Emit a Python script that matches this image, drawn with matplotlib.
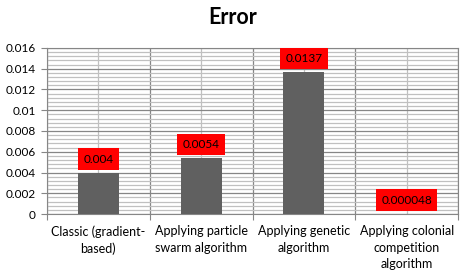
import numpy as np
import matplotlib.pyplot as plt
from matplotlib.ticker import MultipleLocator, FixedLocator

categories = ['Classic (gradient-\nbased)', 'Applying particle\nswarm algorithm',
              'Applying genetic\nalgorithm', 'Applying colonial\ncompetition\nalgorithm']
values = [0.004, 0.0054, 0.0137, 0.000048]
value_labels = ['0.004', '0.0054', '0.0137', '0.000048']
yticks = [0, 0.002, 0.004, 0.006, 0.008, 0.01, 0.012, 0.014, 0.016]
ytick_labels = ['0', '0.002', '0.004', '0.006', '0.008', '0.01', '0.012', '0.014', '0.016']

plt.rcParams['font.family'] = ['Lato', 'DejaVu Sans']

fig = plt.figure(figsize=(4.66, 2.75), dpi=100)
ax = fig.add_axes([0.1009, 0.2218, 0.8820, 0.6037])

x = np.arange(len(values))
ax.bar(x, values, width=0.4, color='#606060', zorder=3)

ax.set_xlim(-0.5, len(values) - 0.5)
ax.set_ylim(0, 0.016)

# grid: major vertical at category edges, minor at centres
ax.xaxis.set_major_locator(FixedLocator(np.arange(len(values) + 1) - 0.5))
ax.xaxis.set_minor_locator(FixedLocator(x))
ax.set_xticklabels([])
ax.yaxis.set_major_locator(FixedLocator(yticks))
ax.yaxis.set_minor_locator(MultipleLocator(0.0004))
ax.set_yticklabels(ytick_labels, fontsize=8.5)

ax.grid(True, which='major', color='#868686', linewidth=0.9, zorder=0)
ax.grid(True, which='minor', color='#c0c0c0', linewidth=0.9, zorder=0)
ax.tick_params(axis='y', which='major', length=4, color='#868686', pad=4)
ax.tick_params(axis='x', which='major', length=4, color='#868686')
ax.tick_params(which='minor', length=0)
for s in ax.spines.values():
    s.set_color('#868686')

for i, c in enumerate(categories):
    ax.text(i, -0.0011, c, ha='center', va='top', fontsize=9, linespacing=1.45)

for i, (v, lab) in enumerate(zip(values, value_labels)):
    ax.annotate(lab, (i, v), xytext=(0, 8), textcoords='offset pixels',
                ha='center', va='bottom', fontsize=8.5, color='black', zorder=4,
                bbox=dict(boxstyle='square,pad=0.45', fc='red', ec='none'))

fig.suptitle('Error', fontsize=15.5, fontweight='bold', y=0.975)
fig.savefig('out.png', dpi=100)
